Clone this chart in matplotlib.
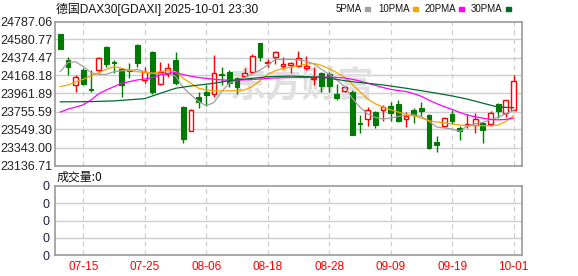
import numpy as np
import pandas as pd
import matplotlib
matplotlib.use('Agg')
import matplotlib.pyplot as plt
from matplotlib.patches import Rectangle

plt.rcParams['font.family'] = ['Liberation Sans', 'Noto Sans CJK SC', 'DejaVu Sans']

# trading days 07-10 .. 10-01
dates = pd.bdate_range('2025-07-10', '2025-10-01')
tick_labels = ['07-15', '07-25', '08-06', '08-18', '08-28', '09-09', '09-19', '10-01']

opens = [24641, 24345, 24056, 24231, 24018, 24231, 24497, 24322, 24239, 24231,
         24516, 24117, 24440, 24068, 24186, 24345, 23802, 23536, 23920, 23984,
         23955, 24182, 24205, 24136, 24167, 24212, 24535, 24311, 24376, 24277,
         24288, 24277, 24250, 24125, 24193, 24186, 23958, 23996, 23984, 23623,
         23669, 23749, 23775, 23813, 23844, 23669, 23775, 23790, 23718, 23407,
         23585, 23726, 23566, 23600, 23604, 23623, 23612, 23840, 23737, 23775]
highs = [24649, 24376, 24174, 24250, 24231, 24380, 24505, 24345, 24250, 24315,
         24527, 24261, 24448, 24326, 24315, 24440, 23813, 23783, 23984, 24060,
         24402, 24269, 24231, 24155, 24250, 24414, 24542, 24353, 24452, 24376,
         24326, 24448, 24395, 24269, 24212, 24205, 24072, 24049, 24003, 23718,
         23806, 23756, 23832, 23859, 23889, 23745, 23794, 23870, 23725, 23479,
         23692, 23775, 23593, 23730, 23737, 23631, 23764, 23851, 23889, 24174]
lows = [24467, 24174, 23984, 24060, 23984, 24200, 24269, 24200, 23927, 24136,
        24269, 24079, 23958, 24065, 24147, 24060, 23395, 23530, 23794, 23820,
        23920, 24060, 24041, 23958, 24155, 24210, 24337, 24269, 24296, 24239,
        24193, 24269, 24231, 24060, 23984, 23984, 23889, 23984, 23490, 23509,
        23593, 23566, 23650, 23650, 23630, 23578, 23623, 23699, 23327, 23289,
        23573, 23615, 23433, 23566, 23509, 23395, 23593, 23680, 23692, 23775]
closes = [24467, 24269, 24155, 24072, 24003, 24372, 24300, 24307, 24060, 24216,
          24307, 24212, 23984, 24212, 24258, 24079, 23441, 23768, 23859, 23939,
          24193, 24170, 24087, 24041, 24193, 24391, 24376, 24319, 24433, 24296,
          24307, 24364, 24277, 24136, 24053, 24053, 23916, 24041, 23490, 23612,
          23775, 23604, 23806, 23737, 23650, 23699, 23718, 23756, 23338, 23369,
          23680, 23650, 23536, 23612, 23669, 23540, 23737, 23756, 23882, 24110]

ma5 = [24212, 24318, 24326, 24269, 24200, 24182, 24182, 24212, 24223, 24223,
       24239, 24212, 24193, 24182, 24193, 24160, 24030, 23946, 23870, 23821,
       23859, 23984, 24079, 24117, 24147, 24185, 24231, 24288, 24353, 24353,
       24353, 24345, 24334, 24300, 24239, 24182, 24117, 24041, 23908, 23805,
       23729, 23688, 23669, 23680, 23699, 23711, 23718, 23699, 23642, 23578,
       23566, 23555, 23528, 23593, 23616, 23631, 23661, 23688, 23730, 23770]
ma10 = [24041, 24060, 24094, 24125, 24163, 24201, 24239, 24269, 24250, 24231,
        24212, 24205, 24193, 24212, 24223, 24212, 24136, 24079, 24022, 24003,
        23992, 23992, 23992, 23996, 24003, 24041, 24110, 24182, 24223, 24250,
        24262, 24281, 24300, 24307, 24284, 24246, 24201, 24148, 24068, 23984,
        23901, 23844, 23806, 23775, 23749, 23722, 23707, 23680, 23650, 23635,
        23627, 23612, 23601, 23593, 23593, 23593, 23593, 23600, 23642, 23707]
ma20 = [23749, 23783, 23806, 23832, 23889, 23958, 24003, 24041, 24079, 24098,
        24117, 24128, 24144, 24174, 24193, 24201, 24178, 24160, 24145, 24135,
        24125, 24118, 24115, 24115, 24118, 24122, 24128, 24135, 24140, 24143,
        24145, 24145, 24145, 24148, 24150, 24150, 24145, 24140, 24125, 24105,
        24080, 24055, 24030, 24010, 23995, 23985, 23960, 23930, 23885, 23845,
        23810, 23780, 23745, 23715, 23695, 23680, 23665, 23660, 23665, 23680]
ma30_idx = [0, 4, 7, 11, 12, 15, 17, 20, 22, 25, 27, 30, 34, 38, 42, 45, 49, 51, 53, 55, 57, 59]
ma30 = [23866, 23869, 23877, 23903, 23934, 24022, 24048, 24079, 24109, 24136, 24154,
        24162, 24148, 24097, 24060, 24022, 23965, 23934, 23897, 23851, 23806, 23800]

y_ticks = [24787.06, 24580.77, 24374.47, 24168.18, 23961.89, 23755.59, 23549.30, 23343.00, 23136.71]

RED = '#ff0000'
GREEN = '#007a00'
GRID = '#cfcfcf'
BORDER = '#9a9a9a'

W, H = 578, 276
fig = plt.figure(figsize=(W / 100, H / 100), dpi=100)
fig.patch.set_facecolor('white')

ax = fig.add_axes([55 / W, 1 - 165.5 / H, 467 / W, 144 / H])
axv = fig.add_axes([55 / W, 1 - 255 / H, 467 / W, 69 / H])

x = np.arange(len(dates))
lbl = dates.strftime('%m-%d')
tick_pos = [int(np.where(lbl == t)[0][0]) for t in tick_labels]

o = np.array(opens); c = np.array(closes); hi = np.array(highs); lo = np.array(lows)
up = c >= o
body_lo = np.minimum(o, c)
body_h = np.maximum(np.abs(c - o), 3)

# wicks
ax.vlines(x[up], lo[up], hi[up], color=RED, lw=1, zorder=3)
ax.vlines(x[~up], lo[~up], hi[~up], color=GREEN, lw=1, zorder=3)
# bodies
ax.bar(x[up], body_h[up], bottom=body_lo[up], width=0.62, facecolor='white',
       edgecolor=RED, linewidth=1, zorder=4)
ax.bar(x[~up], body_h[~up], bottom=body_lo[~up], width=0.62, facecolor=GREEN,
       edgecolor=GREEN, linewidth=0.8, zorder=4)

# moving averages
ax.plot(x, ma5, color='#a0a0a0', lw=0.9, zorder=5)
ax.plot(x, ma10, color='#f5a300', lw=0.9, zorder=5)
ax.plot(x, ma20, color='#ff00ff', lw=0.9, zorder=5)
ax.plot(ma30_idx, ma30, color='#006b2c', lw=0.9, zorder=5)

# watermark
ax.text(0.53, 0.55, '东方财富', transform=ax.transAxes, fontsize=26, fontweight='bold',
        color='#e0e0e0', ha='center', va='center', family=['Noto Sans CJK SC'], zorder=1)

for a in (ax, axv):
    a.set_xlim(-0.69, 60.1)
    a.set_xticks(tick_pos)
    for t in tick_pos:
        a.axvline(t, color=GRID, lw=0.9, ls=(0, (4, 3)), zorder=0)
    for s in a.spines.values():
        s.set_color(BORDER)
        s.set_linewidth(1.2)
    a.tick_params(length=0)

ax.set_ylim(y_ticks[-1], y_ticks[0])
ax.set_yticks(y_ticks)
ax.set_yticklabels(['%.2f' % v for v in y_ticks], fontsize=9, color='#222222')
ax.tick_params(axis='y', pad=2)
ax.set_xticklabels([])
for v in y_ticks[1:-1]:
    ax.axhline(v, color=GRID, lw=1, zorder=0)

axv.set_ylim(0, 1)
axv.set_yticks([0, 0.25, 0.5, 0.75, 1])
axv.set_yticklabels(['0'] * 5, fontsize=9, color='#22224a')
axv.tick_params(axis='y', pad=4)
for v in [0.25, 0.5, 0.75]:
    axv.axhline(v, color=GRID, lw=1, zorder=0)
axv.set_xticklabels(tick_labels, fontsize=8.5, color=RED)
axv.tick_params(axis='x', pad=4)

# title and legend
fig.text(56 / W, 1 - 9 / H, '德国DAX30[GDAXI] 2025-10-01 23:30', fontsize=8.6,
         va='center', ha='left', color='#111111')
legend = [('5PMA', '#a0a0a0', 362, 365), ('10PMA', '#f5a300', 410, 413),
          ('20PMA', '#ff00ff', 456, 459), ('30PMA', '#006b2c', 502, 505.5)]
for name, col, tx, sx in legend:
    fig.text(tx / W, 1 - 9 / H, name, fontsize=7, va='center', ha='right', color='#111111')
    fig.patches.append(Rectangle((sx / W, 1 - 10.5 / H), 5 / W, 3 / H, color=col,
                                 transform=fig.transFigure, figure=fig))

fig.text(57 / W, 1 - 177 / H, '成交量:0', fontsize=8.6, va='center', ha='left',
         color='#111111', family=['Noto Sans CJK SC', 'DejaVu Sans'])

fig.savefig('out.png', dpi=100)
